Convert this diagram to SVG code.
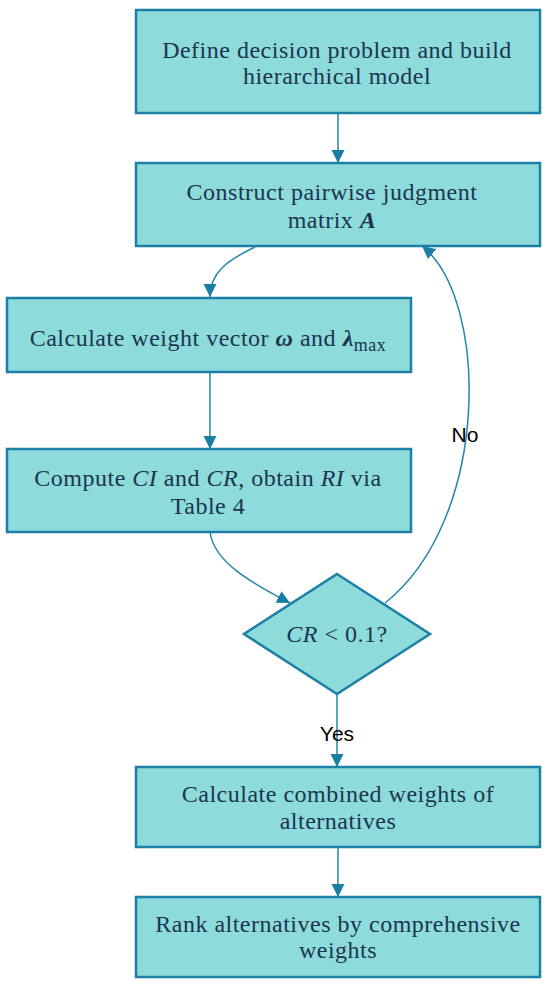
<svg xmlns="http://www.w3.org/2000/svg" width="550" height="987" viewBox="0 0 550 987">
<style>
.box{fill:#8edbdb;stroke:#1c7fa6;stroke-width:2.5}
.t{font-family:"Liberation Serif","Times New Roman",serif;font-size:24px;letter-spacing:0.5px;fill:#1b3550;text-anchor:middle}
.lbl{font-family:"Liberation Sans",Arial,sans-serif;font-size:21px;fill:#000;text-anchor:middle}
.c{fill:none;stroke:#2585ad;stroke-width:1.5;marker-end:url(#ah)}
</style>
<defs>
<marker id="ah" markerUnits="userSpaceOnUse" markerWidth="14" markerHeight="14" refX="13" refY="6.5" orient="auto" viewBox="0 0 14 13">
<path d="M0,0 L13,6.5 L0,13 z" fill="#1a7ea4"/>
</marker>
</defs>
<rect width="550" height="987" fill="#fff"/>
<g id="connectors">
<path class="c" d="M338,113 L338,163"/>
<path class="c" d="M255,247 C228,260 210,272 210,297"/>
<path class="c" d="M210,372 L210,449"/>
<path class="c" d="M210,532 C214,562 250,582 290,603"/>
<path class="c" d="M385,603 C490,520 490,300 422,246"/>
<path class="c" d="M337,694 L337,767"/>
<path class="c" d="M338,847 L338,897"/>
<text class="lbl" x="465" y="442" font-size="22">No</text>
<text class="lbl" x="337" y="741">Yes</text>
</g>
<g id="n1">
<rect class="box" x="136" y="10" width="404" height="103"/>
<text class="t" x="337" y="58">Define decision problem and build</text>
<text class="t" x="337" y="84">hierarchical model</text>
</g>
<g id="n2">
<rect class="box" x="136" y="163" width="404" height="83"/>
<text class="t" x="332" y="200">Construct pairwise judgment</text>
<text class="t" x="332" y="228">matrix <tspan font-style="italic" font-weight="bold">A</tspan></text>
</g>
<g id="n3">
<rect class="box" x="7" y="298" width="404" height="74"/>
<text class="t" x="208" y="346">Calculate weight vector <tspan font-style="italic" font-weight="bold">ω</tspan> and <tspan font-style="italic" font-weight="bold">λ</tspan><tspan font-size="18" dy="5">max</tspan></text>
</g>
<g id="n4">
<rect class="box" x="7" y="449" width="404" height="83"/>
<text class="t" x="208" y="486">Compute <tspan font-style="italic">CI</tspan> and <tspan font-style="italic">CR</tspan>, obtain <tspan font-style="italic">RI</tspan> via</text>
<text class="t" x="208" y="514">Table 4</text>
</g>
<g id="n5">
<polygon class="box" points="337,574 430,634 337,694 244,634"/>
<text class="t" x="337" y="642"><tspan font-style="italic">CR</tspan> &lt; 0.1?</text>
</g>
<g id="n6">
<rect class="box" x="136" y="767" width="404" height="80"/>
<text class="t" x="338" y="802">Calculate combined weights of</text>
<text class="t" x="338" y="829">alternatives</text>
</g>
<g id="n7">
<rect class="box" x="136" y="897" width="404" height="80"/>
<text class="t" x="338" y="932">Rank alternatives by comprehensive</text>
<text class="t" x="338" y="958">weights</text>
</g>
</svg>
